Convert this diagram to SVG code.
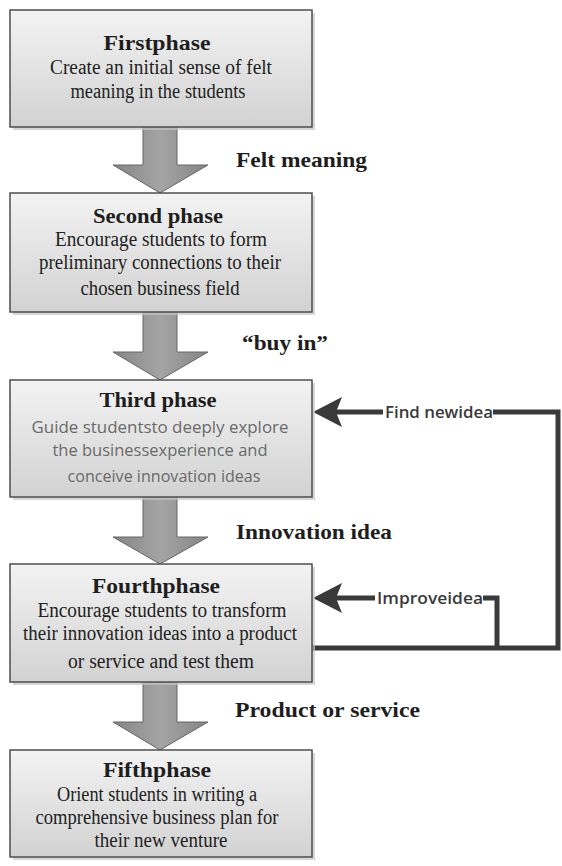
<svg xmlns="http://www.w3.org/2000/svg" width="562" height="866" viewBox="0 0 562 866">
<defs>
<linearGradient id="boxfill" x1="0" y1="0" x2="0" y2="1">
<stop offset="0" stop-color="#f3f3f3"/>
<stop offset="1" stop-color="#d2d2d2"/>
</linearGradient>
<linearGradient id="arrowfill" x1="0" y1="0" x2="1" y2="0">
<stop offset="0" stop-color="#858585"/>
<stop offset="0.5" stop-color="#a4a4a4"/>
<stop offset="1" stop-color="#858585"/>
</linearGradient>
</defs>
<style>
.shadow{fill:#c4c4c4;opacity:0.7}
.box{fill:url(#boxfill);stroke:#4d4d4d;stroke-width:1.5}
.title{font-family:"Liberation Serif",serif;font-weight:bold;font-size:21px;fill:#1e1e1e;text-anchor:middle}
.body{font-family:"Liberation Serif",serif;font-size:20px;fill:#222;text-anchor:middle}
.sbody{font-family:"Open Sans","Liberation Sans",sans-serif;font-size:16.5px;fill:#6a6a6a;text-anchor:middle}
.lbl{font-family:"Liberation Serif",serif;font-weight:bold;font-size:22px;fill:#1e1e1e}
.fblbl{font-family:"Open Sans","Liberation Sans",sans-serif;font-size:16px;font-weight:600;fill:#3a3a3a}
.blk{fill:url(#arrowfill);stroke:#666;stroke-width:1}
.fb{fill:none;stroke:#3a3a3a;stroke-width:5;stroke-linejoin:miter}
.fbh{fill:#3a3a3a}
</style>

<g id="connectors">
<polygon class="blk" points="143,127 177,127 177,165 208,165 160,193 113,165 143,165"/>
<polygon class="blk" points="143,312 177,312 177,352 208,352 160,380 113,352 143,352"/>
<polygon class="blk" points="143,497 177,497 177,537 208,537 160,564 113,537 143,537"/>
<polygon class="blk" points="143,682 177,682 177,722 208,722 160,750 113,722 143,722"/>
<text class="lbl" x="236" y="167" textLength="131" lengthAdjust="spacingAndGlyphs">Felt meaning</text>
<text class="lbl" x="242" y="350" textLength="86" lengthAdjust="spacingAndGlyphs">“buy in”</text>
<text class="lbl" x="236" y="539" textLength="156" lengthAdjust="spacingAndGlyphs">Innovation idea</text>
<text class="lbl" x="235" y="717" textLength="185" lengthAdjust="spacingAndGlyphs">Product or service</text>

<polyline class="fb" points="312,648 558,648 558,412 493,412"/>
<line class="fb" x1="383" y1="412" x2="336" y2="412"/>
<polygon class="fbh" points="313,412 342,397 336,412 342,427"/>
<text class="fblbl" x="385" y="418" textLength="108" lengthAdjust="spacingAndGlyphs">Find newidea</text>

<polyline class="fb" points="497,648 497,598 483,598"/>
<line class="fb" x1="375" y1="598" x2="336" y2="598"/>
<polygon class="fbh" points="313,598 342,583 336,598 342,613"/>
<text class="fblbl" x="377" y="604" textLength="106" lengthAdjust="spacingAndGlyphs">Improveidea</text>
<circle cx="312" cy="648" r="3" fill="#3a3a3a"/>
</g>

<g id="phase1">
<rect class="shadow" x="13" y="13" width="302" height="117"/>
<rect class="box" x="10" y="10" width="302" height="117"/>
<text class="title" x="157" y="50" textLength="107" lengthAdjust="spacingAndGlyphs">Firstphase</text>
<text class="body" x="161" y="74" textLength="222" lengthAdjust="spacingAndGlyphs">Create an initial sense of felt</text>
<text class="body" x="158" y="98" textLength="175" lengthAdjust="spacingAndGlyphs">meaning in the students</text>
</g>

<g id="phase2">
<rect class="shadow" x="13" y="196" width="302" height="119"/>
<rect class="box" x="10" y="193" width="302" height="119"/>
<text class="title" x="158" y="223" textLength="130" lengthAdjust="spacingAndGlyphs">Second phase</text>
<text class="body" x="161" y="246" textLength="212" lengthAdjust="spacingAndGlyphs">Encourage students to form</text>
<text class="body" x="160" y="269" textLength="242" lengthAdjust="spacingAndGlyphs">preliminary connections to their</text>
<text class="body" x="160" y="295" textLength="159" lengthAdjust="spacingAndGlyphs">chosen business field</text>
</g>

<g id="phase3">
<rect class="shadow" x="13" y="383" width="302" height="117"/>
<rect class="box" x="10" y="380" width="302" height="117"/>
<text class="title" x="158" y="407" textLength="117" lengthAdjust="spacingAndGlyphs">Third phase</text>
<text class="sbody" x="160" y="433" textLength="257" lengthAdjust="spacingAndGlyphs">Guide studentsto deeply explore</text>
<text class="sbody" x="160" y="456" textLength="215" lengthAdjust="spacingAndGlyphs">the businessexperience and</text>
<text class="sbody" x="164" y="482" textLength="193" lengthAdjust="spacingAndGlyphs">conceive innovation ideas</text>
</g>

<g id="phase4">
<rect class="shadow" x="13" y="567" width="302" height="118"/>
<rect class="box" x="10" y="564" width="302" height="118"/>
<text class="title" x="156" y="593" textLength="128" lengthAdjust="spacingAndGlyphs">Fourthphase</text>
<text class="body" x="162" y="617" textLength="249" lengthAdjust="spacingAndGlyphs">Encourage students to transform</text>
<text class="body" x="160" y="640" textLength="274" lengthAdjust="spacingAndGlyphs">their innovation ideas into a product</text>
<text class="body" x="161" y="668" textLength="186" lengthAdjust="spacingAndGlyphs">or service and test them</text>
</g>

<g id="phase5">
<rect class="shadow" x="13" y="753" width="302" height="107"/>
<rect class="box" x="10" y="750" width="302" height="107"/>
<text class="title" x="157" y="777" font-size="20" textLength="108" lengthAdjust="spacingAndGlyphs">Fifthphase</text>
<text class="body" x="157" y="801" font-size="19" textLength="200" lengthAdjust="spacingAndGlyphs">Orient students in writing a</text>
<text class="body" x="157" y="824" font-size="19" textLength="243" lengthAdjust="spacingAndGlyphs">comprehensive business plan for</text>
<text class="body" x="161" y="847" font-size="19" textLength="133" lengthAdjust="spacingAndGlyphs">their new venture</text>
</g>
</svg>
